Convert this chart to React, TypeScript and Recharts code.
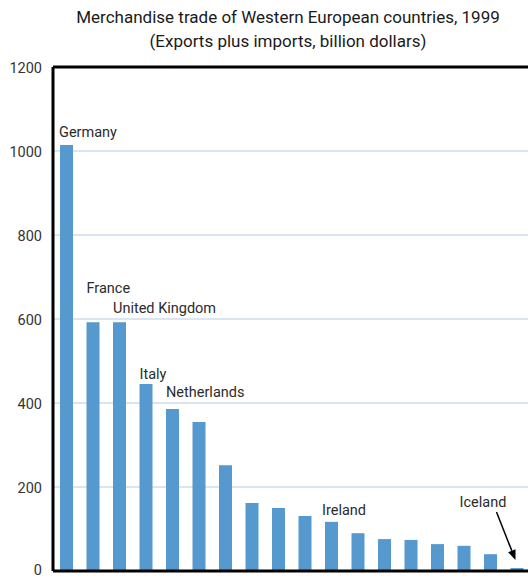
import { BarChart, Bar, XAxis, YAxis, CartesianGrid, ReferenceLine, LabelList } from "recharts";

const countries = [
  "Germany", "France", "United Kingdom", "Italy", "Netherlands", "Belgium",
  "Spain", "Switzerland", "Sweden", "Austria", "Ireland", "Denmark",
  "Norway", "Finland", "Portugal", "Greece", "Luxembourg", "Iceland",
];
const trade = [1014, 592, 592, 445, 386, 355, 252, 162, 150, 131, 117, 90, 76, 74, 64, 60, 40, 7];
const yTicks = [0, 200, 400, 600, 800, 1000, 1200];

const title = "Merchandise trade of Western European countries, 1999";
const subtitle = "(Exports plus imports, billion dollars)";

// where each annotated label sits relative to its bar's top-left corner
const labelOffsets: Record<string, { dx: number; dy: number }> = {
  Germany: { dx: -1, dy: -8 },
  France: { dx: 0, dy: -29 },
  "United Kingdom": { dx: 0, dy: -9 },
  Italy: { dx: 0, dy: -5 },
  Netherlands: { dx: 0, dy: -12 },
  Ireland: { dx: -3, dy: -7 },
  Iceland: { dx: -51, dy: -61 },
};

const data = countries.map((c, i) => ({ country: c, value: trade[i] }));

const font = "Roboto, 'Liberation Sans', sans-serif";

function BarLabel(props: any) {
  const { x, y, index } = props;
  const name = countries[index];
  const off = labelOffsets[name];
  if (!off) return null;
  const text = (
    <text x={x + off.dx} y={y + off.dy} fontSize={14.5} fontFamily={font} fill="#2b2b2b">
      {name}
    </text>
  );
  if (name !== "Iceland") return text;
  // arrow pointing down at the tiny Iceland bar
  const x1 = x - 14, y1 = y - 56, x2 = x + 5, y2 = y - 8;
  const ang = Math.atan2(y2 - y1, x2 - x1);
  const len = 10, half = 4;
  const bx = x2 - len * Math.cos(ang), by = y2 - len * Math.sin(ang);
  const px = -Math.sin(ang) * half, py = Math.cos(ang) * half;
  return (
    <g>
      {text}
      <line x1={x1} y1={y1} x2={bx} y2={by} stroke="#000" strokeWidth={1.5} />
      <polygon points={`${x2},${y2} ${bx + px},${by + py} ${bx - px},${by - py}`} fill="#000" />
    </g>
  );
}

function YTick(props: any) {
  const { x, y, payload } = props;
  // the zero label would otherwise run off the bottom edge
  const baseline = payload.value === 0 ? y + 4 : y + 6;
  return (
    <text x={x} y={baseline} textAnchor="end" fontSize={14.5} fontFamily={font} fill="#333">
      {payload.value}
    </text>
  );
}

export default function App() {
  return (
    <div style={{ position: "absolute", left: 0, top: 0, width: 528, height: 578, overflow: "hidden", background: "#fff" }}>
      <div style={{ position: "absolute", left: 0, top: 5, width: 576, textAlign: "center", fontFamily: font, fontSize: 17, color: "#1a1a1a", lineHeight: "24px" }}>
        <div>{title}</div>
        <div>{subtitle}</div>
      </div>
      <BarChart
        width={540}
        height={578}
        data={data}
        margin={{ top: 67, right: 10, bottom: 0, left: 0 }}
        barSize={13}
      >
        <CartesianGrid vertical={false} stroke="#d9e5f1" strokeWidth={2} />
        <XAxis
          dataKey="country"
          tick={false}
          tickLine={false}
          height={7}
          axisLine={{ stroke: "#000", strokeWidth: 3 }}
        />
        <YAxis
          domain={[0, 1200]}
          ticks={yTicks}
          interval={0}
          width={53}
          tickLine={false}
          tickMargin={5}
          axisLine={{ stroke: "#000", strokeWidth: 3 }}
          tick={<YTick />}
        />
        <ReferenceLine y={1200} stroke="#000" strokeWidth={3} />
        <Bar dataKey="value" fill="#5599cf" isAnimationActive={false}>
          <LabelList dataKey="value" content={<BarLabel />} />
        </Bar>
      </BarChart>
    </div>
  );
}
